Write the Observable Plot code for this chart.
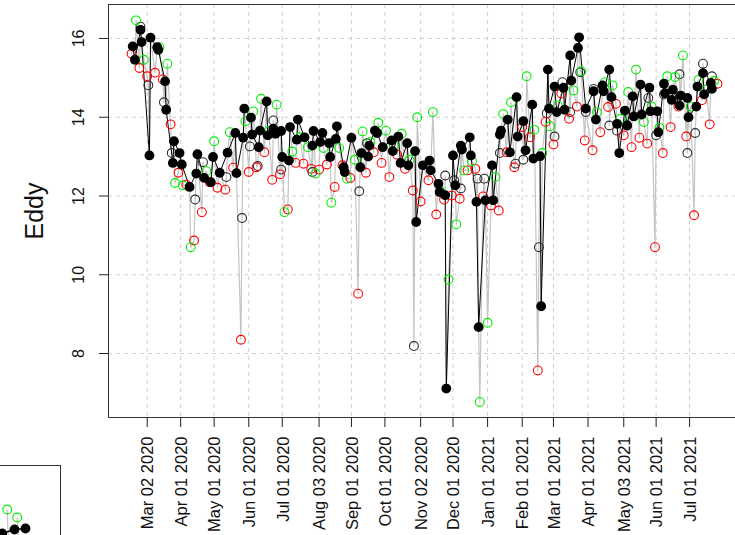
<!DOCTYPE html>
<html>
<head>
<meta charset="utf-8">
<script src="https://cdn.jsdelivr.net/npm/d3@7"></script>
<script src="https://cdn.jsdelivr.net/npm/@observablehq/plot@0.6"></script>
<style>
  html, body { margin: 0; padding: 0; background: #fff; overflow: hidden; width: 735px; height: 535px; }
  #chart { position: relative; width: 735px; height: 535px; overflow: hidden; }
  #chart svg { position: absolute; }
</style>
</head>
<body>
<div id="chart"></div>
<script>
// Main series: filled black points joined by a black line
const blackDates = ["2020-02-18","2020-02-20","2020-02-25","2020-02-26","2020-03-04","2020-03-05","2020-03-11","2020-03-12","2020-03-18","2020-03-19","2020-03-25","2020-03-26","2020-03-31","2020-04-02","2020-04-09","2020-04-15","2020-04-16","2020-04-22","2020-04-28","2020-04-30","2020-05-06","2020-05-13","2020-05-20","2020-05-21","2020-05-27","2020-05-28","2020-06-03","2020-06-04","2020-06-10","2020-06-11","2020-06-17","2020-06-18","2020-06-23","2020-06-25","2020-06-30","2020-07-01","2020-07-07","2020-07-08","2020-07-14","2020-07-15","2020-07-21","2020-07-28","2020-07-29","2020-08-04","2020-08-06","2020-08-12","2020-08-13","2020-08-18","2020-08-19","2020-08-25","2020-08-26","2020-09-01","2020-09-09","2020-09-10","2020-09-16","2020-09-17","2020-09-22","2020-09-24","2020-09-29","2020-10-07","2020-10-08","2020-10-13","2020-10-15","2020-10-21","2020-10-22","2020-10-28","2020-10-29","2020-11-04","2020-11-10","2020-11-11","2020-11-18","2020-11-19","2020-11-24","2020-11-25","2020-12-01","2020-12-03","2020-12-08","2020-12-09","2020-12-16","2020-12-17","2020-12-22","2020-12-24","2020-12-30","2021-01-05","2021-01-06","2021-01-12","2021-01-13","2021-01-19","2021-01-21","2021-01-27","2021-01-28","2021-02-02","2021-02-04","2021-02-10","2021-02-11","2021-02-17","2021-02-18","2021-02-24","2021-02-25","2021-03-02","2021-03-04","2021-03-10","2021-03-11","2021-03-16","2021-03-17","2021-03-23","2021-03-24","2021-03-30","2021-04-06","2021-04-08","2021-04-14","2021-04-15","2021-04-20","2021-04-22","2021-04-27","2021-04-29","2021-05-04","2021-05-06","2021-05-11","2021-05-12","2021-05-18","2021-05-19","2021-05-26","2021-05-27","2021-06-02","2021-06-03","2021-06-08","2021-06-09","2021-06-15","2021-06-16","2021-06-22","2021-06-23","2021-06-29","2021-06-30","2021-07-07","2021-07-08","2021-07-13","2021-07-14","2021-07-20","2021-07-21"];
const blackValues = [15.80,15.46,16.22,15.91,13.03,16.02,15.78,15.71,14.91,14.19,12.84,13.39,13.09,12.80,12.23,12.57,13.06,12.46,12.35,12.99,12.59,13.10,13.60,12.58,13.48,14.22,13.99,13.56,13.24,13.66,14.40,13.54,13.71,13.58,13.65,12.99,12.90,13.75,13.43,13.94,13.49,13.28,13.65,13.37,13.60,13.34,12.99,13.45,13.77,12.73,12.61,13.48,12.73,13.09,13.00,13.28,13.66,13.60,13.24,13.41,13.14,13.51,12.84,13.34,12.78,13.14,11.34,12.78,12.90,12.65,12.31,12.10,12.02,7.11,13.03,12.27,13.28,13.18,13.49,13.03,11.85,8.67,11.89,12.78,11.89,13.56,13.66,13.94,13.11,14.51,13.51,13.90,13.16,14.32,12.95,13.01,9.20,15.21,14.22,14.78,14.13,14.75,14.19,15.57,14.93,15.76,16.03,14.22,14.66,13.94,14.81,14.66,15.21,14.51,13.83,13.09,14.17,13.79,14.53,14.02,14.83,14.07,14.75,14.15,14.15,13.62,14.85,14.61,14.44,14.70,14.30,14.55,14.49,14.00,14.27,14.78,15.12,14.58,14.87,14.72];

// Fridays (green open circles)
const greenDates = ["2020-02-21","2020-02-28","2020-03-13","2020-03-20","2020-03-27","2020-04-03","2020-04-10","2020-04-24","2020-05-01","2020-05-15","2020-05-29","2020-06-05","2020-06-12","2020-06-19","2020-06-26","2020-07-03","2020-07-10","2020-07-17","2020-07-24","2020-07-31","2020-08-07","2020-08-14","2020-08-21","2020-08-28","2020-09-04","2020-09-11","2020-09-18","2020-09-25","2020-10-02","2020-10-09","2020-10-16","2020-10-23","2020-10-30","2020-11-13","2020-11-20","2020-11-27","2020-12-04","2020-12-11","2020-12-18","2020-12-25","2021-01-01","2021-01-08","2021-01-15","2021-01-22","2021-02-05","2021-02-12","2021-02-19","2021-02-26","2021-03-05","2021-03-19","2021-03-26","2021-04-09","2021-04-16","2021-04-23","2021-04-30","2021-05-07","2021-05-14","2021-05-21","2021-05-28","2021-06-04","2021-06-11","2021-06-18","2021-06-25","2021-07-02","2021-07-09","2021-07-16","2021-07-23"];
const greenValues = [16.46,15.46,15.78,15.36,12.33,12.27,10.70,12.63,13.39,13.62,13.90,14.15,14.47,13.65,14.32,11.59,13.13,13.49,13.24,12.57,13.22,11.83,13.22,12.44,12.92,13.64,13.37,13.86,13.66,13.28,13.58,12.92,14.00,14.13,12.12,9.88,11.28,12.65,12.88,6.77,8.78,12.48,14.08,14.38,15.04,13.68,13.09,13.77,14.30,14.68,15.17,14.13,14.89,14.81,13.96,14.64,15.21,13.88,14.27,13.73,15.04,15.02,15.57,14.27,14.95,14.70,14.92];

// Mondays (red open circles)
const redDates = ["2020-02-17","2020-02-24","2020-03-02","2020-03-09","2020-03-16","2020-03-23","2020-03-30","2020-04-06","2020-04-13","2020-04-20","2020-04-27","2020-05-04","2020-05-11","2020-05-18","2020-05-25","2020-06-01","2020-06-08","2020-06-15","2020-06-22","2020-06-29","2020-07-06","2020-07-13","2020-07-20","2020-07-27","2020-08-03","2020-08-10","2020-08-17","2020-08-24","2020-08-31","2020-09-07","2020-09-14","2020-09-21","2020-09-28","2020-10-05","2020-10-12","2020-10-19","2020-10-26","2020-11-02","2020-11-09","2020-11-16","2020-11-23","2020-11-30","2020-12-07","2020-12-14","2020-12-21","2020-12-28","2021-01-04","2021-01-11","2021-01-18","2021-01-25","2021-02-01","2021-02-08","2021-02-15","2021-02-22","2021-03-01","2021-03-08","2021-03-15","2021-03-22","2021-03-29","2021-04-05","2021-04-12","2021-04-19","2021-04-26","2021-05-03","2021-05-10","2021-05-17","2021-05-24","2021-05-31","2021-06-07","2021-06-14","2021-06-21","2021-06-28","2021-07-05","2021-07-12","2021-07-19","2021-07-26"];
const redValues = [15.61,15.25,15.04,15.13,14.96,13.82,12.59,12.29,10.87,11.59,12.35,12.21,12.16,12.72,8.35,12.61,12.73,13.11,12.41,12.55,11.66,12.84,12.82,12.69,12.67,12.80,12.23,12.78,12.46,9.52,12.59,13.11,12.84,12.48,13.05,12.69,12.14,11.86,12.40,11.53,11.91,12.01,11.93,12.65,12.69,11.99,11.76,11.63,13.11,12.73,13.75,13.49,7.57,13.88,13.31,14.60,13.96,14.27,13.41,13.16,13.62,14.26,14.34,13.54,13.24,13.48,13.33,10.70,13.09,13.75,14.27,13.51,11.51,14.43,13.82,14.85];

// Remaining days (dark open circles)
const openDates = ["2020-02-25","2020-03-03","2020-03-17","2020-03-24","2020-04-14","2020-04-21","2020-05-12","2020-05-26","2020-06-02","2020-06-09","2020-06-23","2020-06-30","2020-07-28","2020-09-08","2020-09-15","2020-10-27","2020-11-24","2020-12-02","2020-12-08","2020-12-23","2020-12-29","2021-01-12","2021-01-26","2021-02-02","2021-02-16","2021-02-23","2021-03-02","2021-03-09","2021-03-16","2021-03-25","2021-03-30","2021-04-06","2021-04-20","2021-04-27","2021-05-06","2021-05-25","2021-06-01","2021-06-08","2021-06-22","2021-06-29","2021-07-06","2021-07-13","2021-07-21"];
const openValues = [16.30,14.81,14.38,13.09,11.91,12.86,12.48,11.44,13.26,12.76,13.92,12.67,12.61,12.12,13.34,8.19,12.52,12.40,12.19,12.44,12.44,13.09,12.82,12.92,10.70,14.10,13.51,14.89,14.13,15.14,14.13,14.72,13.79,13.66,13.79,14.49,13.54,14.58,15.09,13.09,13.60,15.36,15.04];

// Axis ticks
const xTickDates = ["2020-03-02","2020-04-01","2020-05-01","2020-06-01","2020-07-01","2020-08-03","2020-09-01","2020-10-01","2020-11-02","2020-12-01","2021-01-01","2021-02-01","2021-03-01","2021-04-01","2021-05-03","2021-06-01","2021-07-01"];
const yTicks = [8, 10, 12, 14, 16];

// Corner panel (partly outside the page)
const cornerGreenX = [3.67, 4.67];
const cornerGreenY = [5.6, 4.8];
const cornerBlackX = [3.17, 4.4, 5.5];
const cornerBlackY = [3.2, 3.6, 3.7];

const parse = d3.utcParse("%Y-%m-%d");
const rows = (dates, values, group) => dates.map((d, i) => ({date: parse(d), value: values[i], group}));
const black = rows(blackDates, blackValues, "black");
const green = rows(greenDates, greenValues, "green");
const red = rows(redDates, redValues, "red");
const open = rows(openDates, openValues, "open");
const all = [...black, ...green, ...red, ...open].sort((a, b) => a.date - b.date);
const xTicks = xTickDates.map(parse);
const fmt = d3.utcFormat("%b %d %Y");
const font = "'Liberation Sans', Arial, Helvetica, sans-serif";

const chart = Plot.plot({
  width: 741,
  height: 535,
  marginLeft: 108,
  marginRight: 0,
  marginTop: 4,
  marginBottom: 118,
  style: {fontFamily: font, background: "transparent", maxWidth: "none", overflow: "visible"},
  x: {type: "utc", domain: [new Date("2020-01-27T08:00Z"), new Date("2021-08-16T12:00Z")]},
  y: {domain: [6.375, 16.863]},
  marks: [
    Plot.gridX({ticks: xTicks, stroke: "#cfcfcf", strokeOpacity: 1, strokeDasharray: "4,4"}),
    Plot.gridY({ticks: yTicks, stroke: "#cfcfcf", strokeOpacity: 1, strokeDasharray: "4,4"}),
    Plot.line(all, {x: "date", y: "value", stroke: "#c4c4c4", strokeWidth: 1.2}),
    Plot.line(black, {x: "date", y: "value", stroke: "#000", strokeWidth: 1}),
    Plot.dot(open, {x: "date", y: "value", r: 4.4, stroke: "#2b2b2b", strokeWidth: 1.1, fill: "none"}),
    Plot.dot(red, {x: "date", y: "value", r: 4.4, stroke: "#ff0000", strokeWidth: 1.1, fill: "none"}),
    Plot.dot(green, {x: "date", y: "value", r: 4.4, stroke: "#00ee00", strokeWidth: 1.1, fill: "none"}),
    Plot.dot(black, {x: "date", y: "value", r: 4.9, fill: "#000", stroke: "none"}),
    Plot.frame({stroke: "#333", strokeWidth: 1}),
    Plot.axisX({ticks: xTicks, tickSize: 10, tickFormat: () => "", stroke: "#222", label: null}),
    Plot.axisY({ticks: yTicks, tickSize: 9, tickFormat: () => "", stroke: "#222", label: null}),
    Plot.text(xTicks, {x: d => d, frameAnchor: "bottom", text: d => fmt(d), rotate: -90, textAnchor: "end", lineAnchor: "middle", dy: 19, dx: 1, fontSize: 16.5, fill: "#111"}),
    Plot.text(yTicks, {y: d => d, frameAnchor: "left", text: d => String(d), rotate: -90, textAnchor: "middle", lineAnchor: "middle", dx: -30, fontSize: 16, fill: "#111"}),
    Plot.text(["Eddy"], {frameAnchor: "left", text: d => d, rotate: -90, textAnchor: "middle", lineAnchor: "middle", dx: -74, fontSize: 25, fill: "#111"})
  ]
});
chart.style.left = "0px";
chart.style.top = "0px";
document.getElementById("chart").appendChild(chart);

const corner = Plot.plot({
  width: 90,
  height: 100,
  margin: 0,
  style: {background: "transparent", maxWidth: "none", overflow: "visible"},
  x: {domain: [0, 9], axis: null},
  y: {domain: [0, 10], axis: null},
  marks: [
    Plot.link([0, 1], {x1: i => cornerGreenX[i], y1: i => cornerGreenY[i], x2: i => cornerGreenX[i] + 0.15, y2: i => cornerBlackY[i] - 1.5, stroke: "#c4c4c4", strokeWidth: 1.2}),
    Plot.line(cornerBlackX.map((x, i) => ({x, y: cornerBlackY[i]})), {x: "x", y: "y", stroke: "#000"}),
    Plot.dot(cornerGreenX.map((x, i) => ({x, y: cornerGreenY[i]})), {x: "x", y: "y", r: 4.4, stroke: "#00ee00", strokeWidth: 1.1, fill: "none"}),
    Plot.dot(cornerBlackX.map((x, i) => ({x, y: cornerBlackY[i]})), {x: "x", y: "y", r: 4.9, fill: "#000"}),
    Plot.frame({stroke: "#333"})
  ]
});
corner.style.left = "-30px";
corner.style.top = "465px";
document.getElementById("chart").appendChild(corner);
</script>
</body>
</html>
